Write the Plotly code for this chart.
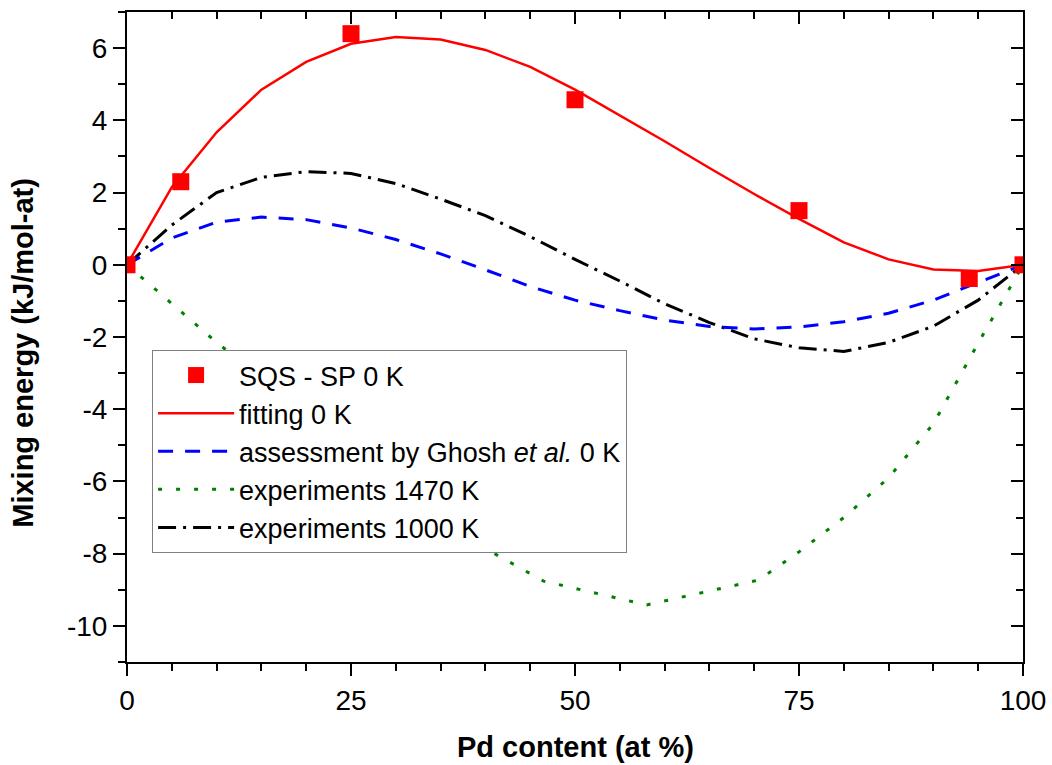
import plotly.graph_objects as go

# ---- data ----
sqs_x = [0, 6, 25, 50, 75, 94, 100]
sqs_y = [0, 2.3, 6.4, 4.57, 1.5, -0.38, 0]

fit_x = [0, 5, 10, 15, 20, 25, 30, 35, 40, 45, 50, 55, 60, 65, 70, 75, 80, 85, 90, 95, 100]
fit_y = [0, 2.15, 3.67, 4.85, 5.62, 6.12, 6.31, 6.24, 5.95, 5.48, 4.85, 4.14, 3.42, 2.68, 1.96, 1.27, 0.62, 0.15, -0.13, -0.17, 0]

ghosh_x = [0, 5, 10, 15, 20, 25, 30, 35, 40, 45, 50, 55, 60, 65, 70, 75, 80, 85, 90, 95, 100]
ghosh_y = [0, 0.74, 1.18, 1.32, 1.25, 1.02, 0.7, 0.3, -0.14, -0.6, -0.98, -1.27, -1.53, -1.71, -1.78, -1.72, -1.58, -1.34, -0.98, -0.5, 0]

exp1470_x = [0, 5, 10, 20, 30, 38, 46.5, 58, 70.5, 75, 80, 85, 90, 95, 100]
exp1470_y = [0, -1.08, -2.15, -4.1, -5.95, -7.58, -8.76, -9.42, -8.73, -7.95, -7.0, -5.9, -4.4, -2.17, 0]

exp1000_x = [0, 5, 10, 15, 20, 25, 30, 35, 40, 45, 50, 55, 60, 65, 70, 75, 80, 85, 90, 95, 100]
exp1000_y = [0, 1.1, 2.0, 2.42, 2.58, 2.53, 2.25, 1.82, 1.36, 0.78, 0.15, -0.45, -1.08, -1.6, -2.05, -2.3, -2.4, -2.15, -1.7, -0.98, 0]

x_tickvals = [0, 25, 50, 75, 100]
x_ticktext = ["0", "25", "50", "75", "100"]
y_tickvals = [-10, -8, -6, -4, -2, 0, 2, 4, 6]
y_ticktext = ["-10", "-8", "-6", "-4", "-2", "0", "2", "4", "6"]

FONT = "Liberation Sans, Arial, sans-serif"

fig = go.Figure()

fig.add_trace(go.Scatter(x=exp1000_x, y=exp1000_y, mode="lines", name="experiments 1000 K",
                         line=dict(color="#000000", width=3, dash="18px,7px,3px,7px")))
fig.add_trace(go.Scatter(x=exp1470_x, y=exp1470_y, mode="lines", name="experiments 1470 K",
                         line=dict(color="#008000", width=3, dash="4px,14px")))
fig.add_trace(go.Scatter(x=ghosh_x, y=ghosh_y, mode="lines",
                         name="assessment by Ghosh <i>et al.</i> 0 K",
                         line=dict(color="#0000ff", width=3, dash="15px,12px")))
fig.add_trace(go.Scatter(x=fit_x, y=fit_y, mode="lines", name="fitting 0 K",
                         line=dict(color="#ff0000", width=2.5)))
fig.add_trace(go.Scatter(x=sqs_x, y=sqs_y, mode="markers", name="SQS - SP 0 K",
                         marker=dict(symbol="square", size=17, color="#ff0000")))
# carrier for the mirrored (inward) tick axes on top/right
fig.add_trace(go.Scatter(x=[None], y=[None], xaxis="x2", yaxis="y2", showlegend=False,
                         hoverinfo="skip", mode="markers"))

xr = [0, 100]
yr = [-11, 7]

fig.update_layout(
    width=1052, height=765,
    margin=dict(l=127, r=29, t=12, b=103, autoexpand=False),
    paper_bgcolor="white", plot_bgcolor="white",
    font=dict(family=FONT, color="black", size=28),
    showlegend=True,
    legend=dict(x=0.028, y=0.48, xanchor="left", yanchor="top",
                bgcolor="white", bordercolor="#808080", borderwidth=1,
                font=dict(family=FONT, size=27, color="black"),
                itemwidth=76, traceorder="reversed", tracegroupgap=0),
    xaxis=dict(range=xr, showgrid=False, zeroline=False, showline=True, linecolor="black",
               linewidth=2, mirror=True, ticks="outside", ticklen=12, tickwidth=2,
               tickcolor="black", tickvals=x_tickvals, ticktext=x_ticktext,
               tickfont=dict(family=FONT, size=28), automargin=False,
               minor=dict(ticks="outside", ticklen=7, tickwidth=2, dtick=5, tick0=0,
                          tickcolor="black", showgrid=False)),
    yaxis=dict(range=yr, showgrid=False, zeroline=False, showline=True, linecolor="black",
               linewidth=2, mirror=True, ticks="outside", ticklen=12, tickwidth=2,
               tickcolor="black", tickvals=y_tickvals, ticktext=y_ticktext,
               tickfont=dict(family=FONT, size=28), automargin=False,
               minor=dict(ticks="outside", ticklen=7, tickwidth=2, dtick=1, tick0=0,
                          tickcolor="black", showgrid=False)),
    xaxis2=dict(range=xr, overlaying="x", side="top", anchor="y", showgrid=False,
                zeroline=False, showline=False, ticks="inside", ticklen=12, tickwidth=2,
                tickcolor="black", tickvals=x_tickvals, showticklabels=False,
                automargin=False,
                minor=dict(ticks="inside", ticklen=7, tickwidth=2, dtick=5, tick0=0,
                           tickcolor="black", showgrid=False)),
    yaxis2=dict(range=yr, overlaying="y", side="right", anchor="x", showgrid=False,
                zeroline=False, showline=False, ticks="inside", ticklen=12, tickwidth=2,
                tickcolor="black", tickvals=y_tickvals, showticklabels=False,
                automargin=False,
                minor=dict(ticks="inside", ticklen=7, tickwidth=2, dtick=1, tick0=0,
                           tickcolor="black", showgrid=False)),
    annotations=[
        dict(text="<b>Pd content (at %)</b>", xref="paper", yref="paper", x=0.5, y=-0.131,
             xanchor="center", yanchor="middle", showarrow=False,
             font=dict(family=FONT, size=29, color="black")),
        dict(text="<b>Mixing energy (kJ/mol-at)</b>", xref="paper", yref="paper",
             x=-0.1155, y=0.475, xanchor="center", yanchor="middle", textangle=-90,
             showarrow=False, font=dict(family=FONT, size=29, color="black")),
    ],
)

fig.write_html("out.html")
